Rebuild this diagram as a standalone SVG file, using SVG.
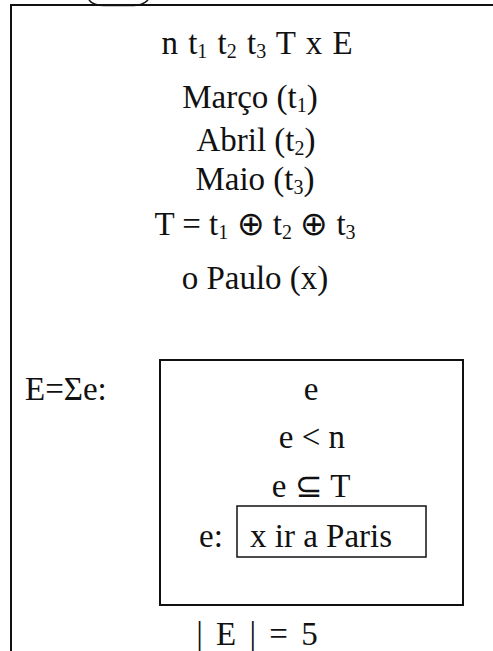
<svg xmlns="http://www.w3.org/2000/svg" width="493" height="651" viewBox="0 0 493 651">
<style>
.t{font-family:"Liberation Serif","Times New Roman",serif;font-size:33px;fill:#111;text-anchor:middle}
.l{text-anchor:start}
.s{font-size:20px}
.ln{fill:none;stroke:#111}
</style>
<rect width="493" height="651" fill="#fff"/>
<g id="frame">
<path class="ln" d="M11 651 V5 H493" stroke-width="2"/>
<path class="ln" d="M89 0 C92 4 96 5.5 104 5.5 L134 5.5 C141 5.5 145 3 148 0" stroke-width="1.5"/>
</g>
<g id="header">
<text class="t" x="257" y="54" word-spacing="2">n t<tspan class="s" dy="4">1</tspan><tspan dy="-4"> t</tspan><tspan class="s" dy="4">2</tspan><tspan dy="-4"> t</tspan><tspan class="s" dy="4">3</tspan><tspan dy="-4"> T x E</tspan></text>
<text class="t" x="250" y="108">Março (t<tspan class="s" dy="4">1</tspan><tspan dy="-4">)</tspan></text>
<text class="t" x="256" y="151">Abril (t<tspan class="s" dy="4">2</tspan><tspan dy="-4">)</tspan></text>
<text class="t" x="255" y="190">Maio (t<tspan class="s" dy="4">3</tspan><tspan dy="-4">)</tspan></text>
<text class="t" x="255" y="235">T = t<tspan class="s" dy="4">1</tspan><tspan dy="-4"> ⊕ t</tspan><tspan class="s" dy="4">2</tspan><tspan dy="-4"> ⊕ t</tspan><tspan class="s" dy="4">3</tspan></text>
<text class="t" x="255" y="289">o Paulo (x)</text>
</g>
<g id="E-label">
<text class="t l" x="25" y="400">E=Σe:</text>
</g>
<g id="event-box">
<rect class="ln" x="160" y="360" width="303" height="245" stroke-width="2"/>
<text class="t" x="311" y="400">e</text>
<text class="t" x="312" y="448">e &lt; n</text>
<text class="t" x="311" y="497">e ⊆ T</text>
<text class="t l" x="199" y="547">e:</text>
</g>
<g id="paris-box">
<rect class="ln" x="237" y="506" width="189" height="51" stroke-width="1.5"/>
<text class="t l" x="250" y="547">x ir a Paris</text>
</g>
<g id="cardinality">
<text class="t" x="257" y="645" word-spacing="5">| E | = 5</text>
</g>
</svg>
